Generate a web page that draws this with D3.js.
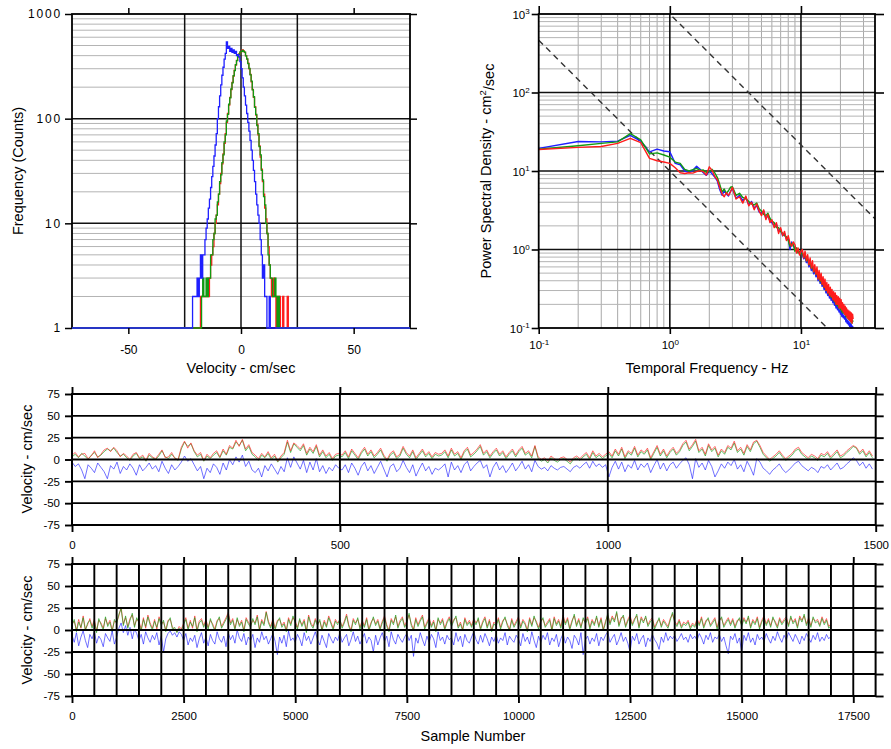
<!DOCTYPE html>
<html>
<head>
<meta charset="utf-8">
<script src="https://cdn.jsdelivr.net/npm/d3@7"></script>
<style>
  body { margin: 0; background: #fff; }
  text { font-family: "Liberation Sans", Arial, Helvetica, sans-serif; fill: #000; }
</style>
</head>
<body>
<svg id="chart" width="891" height="749"></svg>
<script>
// ---------------- data ----------------
// Velocity histogram, bin width 0.5 cm/s, counts per bin (count 1 = empty bin on log axis)
const binWidth = 0.5;
const histBlueStart = -22.5;
const histBlue = [1,1,2,2,2,2,3,2,3,5,3,5,5,7,9,11,14,17,22,28,35,44,56,72,100,130,165,210,260,310,370,420,540,470,490,440,470,430,455,420,440,400,410,390,350,300,245,200,165,135,112,92,76,62,50,40,32,25,19,15,12,10,7,5,3,4,2,2,1,1,2,1,1];
const histRedStart = -18.5;
const histRed = [1,2,2,2,2,2,2,3,2,3,4,5,6,8,10,12,15,19,24,30,37,46,58,72,92,112,135,160,190,222,255,290,325,360,390,415,430,440,455,445,430,400,370,340,300,265,225,190,160,130,108,88,70,55,43,33,25,19,14,11,8,6,4,3,2,2,3,2,1,2,1,2,1,1,2,1,1,1,2,1];
const histGreenStart = -17.5;
const histGreen = [2,3,2,2,3,2,3,3,5,5,7,8,11,12,16,19,25,29,38,45,60,70,95,110,138,158,192,220,258,288,328,358,392,412,435,438,450,440,432,398,372,336,302,262,228,188,162,128,110,86,72,54,45,32,26,18,15,10,8,5,4,3,3,2,2,3,2,1,2,1];
const histXTicks = [-50, 0, 50];
const histXGrid = [-25, 0, 25];
const histYTicks = [1, 10, 100, 1000];

// Power spectral density (cm^2/sec) against frequency (Hz)
const psdFreq = [0.1,0.2,0.3,0.4,0.5,0.6,0.7,0.8,0.9,1.0,1.1,1.2,1.3,1.4,1.5,1.6,1.7,1.8,1.9,2.0,2.1,2.2,2.3,2.4,2.5,2.6,2.7,2.8,2.9,3.0,
  3.2,3.4,3.6,3.8,4.0,4.2,4.4,4.6,4.8,5.0,5.2,5.4,5.6,5.8,6.0,
  6.25,6.5,6.75,7.0,7.25,7.5,7.75,8.0,8.25,8.5,8.75,9.0,9.25,9.5,9.75,10.0,
  10.25,10.5,10.75,11,11.25,11.5,11.75,12,12.25,12.5,12.75,13,13.25,13.5,13.75,14,14.25,14.5,14.75,15,
  15.25,15.5,15.75,16,16.25,16.5,16.75,17,17.25,17.5,17.75,18,18.25,18.5,18.75,19,19.25,19.5,19.75,20,
  20.25,20.5,20.75,21,21.25,21.5,21.75,22,22.25,22.5,22.75,23,23.25,23.5,23.75,24,24.25,24.5,24.75,25];
const psdBlue = [19.4,23.8,23.5,24,28.5,24,17.5,19,18,17.6,12.5,12,10,9.6,10.2,11.5,10.5,9.5,8.8,10,9.2,8.4,7.5,5.8,4.9,5.6,5.1,4.8,5.5,6.0,
  4.5,4.9,4.2,4.6,3.7,4.1,3.4,3.6,3.0,2.9,3.1,2.5,2.7,2.3,2.2,
  2.0,2.1,1.7,1.8,1.5,1.6,1.35,1.4,1.0,1.25,1.1,1.05,1.0,0.95,0.9,0.92,
  0.86,0.76,0.8,0.68,0.72,0.6,0.65,0.54,0.58,0.49,0.53,0.45,0.48,0.4,0.44,0.37,0.4,0.34,0.36,0.31,
  0.33,0.28,0.3,0.26,0.28,0.24,0.26,0.225,0.245,0.21,0.225,0.195,0.21,0.18,0.195,0.17,0.185,0.16,0.17,0.15,
  0.165,0.14,0.155,0.135,0.145,0.13,0.14,0.12,0.13,0.115,0.125,0.11,0.12,0.105,0.115,0.1,0.11,0.1,0.105,0.1];
const psdGreen = [19.0,21,22.5,23.5,30,25,16.5,17,16,15,13,12.5,10.5,10,10.4,10.8,10.2,10.3,9.6,9.8,10.5,9.5,8.3,6.8,5.4,5.9,5.2,5.6,6.2,6.3,
  4.9,5.2,4.6,4.4,4.1,3.8,3.7,3.9,3.3,3.1,2.8,2.7,2.9,2.5,2.3,
  2.2,1.9,1.9,1.7,1.6,1.5,1.45,1.3,1.1,1.2,1.15,0.95,1.05,0.9,0.95,0.88,
  0.9,0.8,0.84,0.72,0.76,0.64,0.68,0.58,0.62,0.52,0.56,0.48,0.51,0.43,0.46,0.39,0.42,0.36,0.38,0.33,
  0.35,0.3,0.32,0.28,0.3,0.26,0.28,0.245,0.265,0.23,0.245,0.215,0.23,0.2,0.215,0.19,0.205,0.18,0.19,0.17,
  0.185,0.16,0.175,0.155,0.165,0.15,0.16,0.14,0.155,0.135,0.145,0.13,0.14,0.125,0.135,0.12,0.13,0.115,0.125,0.12];
const psdRed = [18.8,20,20.5,22.5,26,23,14.5,13.5,13,12.5,11,9.5,9.3,9.5,9.4,9.8,10.1,9.8,8.9,11.3,10.2,8.5,7.8,6.2,5.1,4.7,5.3,4.9,5.4,6.2,
  4.4,4.7,3.9,4.8,3.6,4.0,3.2,3.8,3.1,2.7,3.2,2.4,2.8,2.2,2.4,
  1.9,2.2,1.6,1.9,1.5,1.7,1.3,1.5,1.2,1.1,1.25,1.15,0.9,1.05,0.85,0.95,
  1.0,0.78,0.95,0.72,0.86,0.64,0.78,0.58,0.72,0.52,0.64,0.48,0.6,0.42,0.54,0.4,0.5,0.36,0.45,0.33,
  0.42,0.3,0.38,0.28,0.36,0.26,0.33,0.25,0.31,0.23,0.29,0.22,0.28,0.2,0.26,0.2,0.25,0.18,0.24,0.18,
  0.23,0.17,0.21,0.16,0.2,0.15,0.19,0.145,0.18,0.135,0.17,0.13,0.165,0.125,0.16,0.12,0.155,0.115,0.15,0.13];
// -5/3 reference slopes
const refSlope = -5 / 3;
const refLevels = [10, 1000];
const psdDecades = [0.1, 1, 10, 100, 1000];

// First 1500 samples, one value every 6 samples (cm/sec)
const shortStep = 6;
const shortGreen = [3,6,2,7,4,0,5,8,3, 5,9,12,10,13,8,4,6, 2,-1,4,7,1,3,-2,5,2,0, 4,10,3,1,6,2,-1, 12,20,15,18,9, 3,6,-2,4,1,5, 8,2,10,5,14, 12,20,16,22,10,15,6, 3,-1,5,2,7,0,4,-3,2,6, 20,8,18,14,10,16,5, 12,7,15,3,9, 2,6,-1,4,5,
  3,8,1,10,5,0,7,12,4,9,2,6,11,3,-2,5,8,1,4,13,6,2,9,0,5,10,3,7,1,6,4,
  5,9,2,11,4,7,0,8,12,3,6,10,15,5,9,2,7,11,4,8,1,6,10,3,9,13,5,8,2,15,
  1,-2,0,-4,2,-1,-3,0,1,-2,-5,0,2,-1,
  3,6,0,8,2,5,1,4,
  7,2,10,4,12,1,8,5,13,3,9,6,11,0,7,14,4,10,2,8,12,5,9,16,
  20,10,15,21,8,12,4,16,9,13,3,10,6,14,11,19,8,12,5,15,9,18,21,
  14,6,2,-2,1,4,8,3,-1,2,5,10,12,6,3,0,4,2,-1,5,
  3,7,1,5,9,2,4,8,11,15,13,6,10,3,8,2];
const shortRed = [5,8,3,6,7,1,4,10,2, 6,11,13,9,14,10,3,7, 4,0,6,8,2,5,-1,7,3,1, 6,11,2,3,8,1,0, 14,21,13,19,10, 5,8,-1,6,2,7, 10,3,12,6,16, 13,22,15,23,12,17,8, 5,1,7,3,9,2,6,-2,4,8, 22,10,19,16,12,18,7, 14,9,17,5,11, 4,8,1,6,7,
  5,10,3,12,7,2,9,14,6,11,4,8,13,5,0,7,10,3,6,15,8,4,11,2,7,12,5,9,3,8,6,
  7,11,4,13,6,9,2,10,14,5,8,12,17,7,11,4,9,13,6,10,3,8,12,5,11,15,7,10,4,16,
  3,0,2,-2,4,1,-1,2,3,0,-3,2,4,1,
  5,8,2,10,4,7,3,6,
  9,4,12,6,14,3,10,7,15,5,11,8,13,2,9,16,6,12,4,10,14,7,11,18,
  22,12,17,23,10,14,6,18,11,15,5,12,8,16,13,21,10,14,7,17,11,20,22,
  16,8,4,0,3,6,10,5,1,4,7,12,14,8,5,2,6,4,1,7,
  5,9,3,7,11,4,6,10,13,16,14,8,12,5,10,4];
const shortBlue = [-3,-8,-5,-12,-22,-6,-10,-15,-4, -9,-14,-22,-7,-11,-3,-16,-8, -12,-5,-10,-18,-6,-13,-9,-4,-11,-7, -14,-2,-10,-16,-6,-12,-8, -3,4,-2,1,-6, -13,-8,-22,-10,-15,-5, -9,-17,-4,-12,0, -6,3,-3,5,-8,-2,-12, -15,-10,-20,-7,-13,-5,-11,-17,-8,-14, 2,-9,3,-4,-11,-1,-15, -3,-12,1,-14,-7, -16,-9,-13,-6,-10,
  -12,-6,-15,-4,-10,-18,-8,-3,-13,-7,-16,-9,-2,-11,-20,-8,-5,-14,-10,-1,-9,-15,-6,-19,-11,-4,-13,-8,-17,-10,-12,
  -9,-5,-20,-3,-12,-7,-15,-6,-2,-13,-8,-4,-1,-10,-6,-20,-9,-3,-12,-7,-15,-10,-4,-13,-8,-2,-11,-6,-14,-1,
  -8,-11,-9,-13,-7,-10,-12,-9,-8,-11,-14,-9,-7,-10,
  -6,-3,-10,-2,-8,-5,-9,-6,
  -20,-9,-2,-11,-3,-14,-6,-10,-1,-12,-5,-9,-4,-15,-7,0,-11,-4,-13,-6,-3,-10,-5,-1,
  2,-6,-22,1,-9,-4,-12,-1,-8,-20,-13,-5,-10,-3,-7,0,-11,-6,-14,-2,-9,-18,1,
  -3,-10,-13,-17,-12,-9,-5,-11,-15,-12,-8,-4,-2,-7,-10,-13,-9,-11,-15,-8,
  -10,-6,-12,-8,-4,-11,-9,-5,-2,2,-1,-7,-3,-10,-5,-11];

// Full record, one value every 50 samples (cm/sec)
const longStep = 50;
const longGreen = [5,12,-2,9,3,14,-1,8,11,2, 10,-3,13,6,0,15,4,9,-2,12, 7,18,24,5,16,2,11,19,3,14, 8,-1,12,4,15,6,0,10,3,13,
  5,11,-2,9,14,1,3,-3,2,-1, 6,12,0,9,4,14,-2,8,11,3, 10,1,13,5,-1,9,15,2,7,12, 18,6,11,0,14,4,9,-2,12,7,
  3,13,6,15,-1,10,5,20,8,2, 11,0,9,14,3,7,-2,12,5,16, 8,1,13,4,10,-3,15,6,2,11, 5,12,-1,9,3,14,7,0,10,6,
  13,2,8,16,4,-2,11,6,14,1, 9,3,12,-1,7,15,5,10,0,8, 14,4,-2,11,6,17,2,9,13,3, 8,19,5,-1,12,4,10,15,1,7,
  12,3,9,-2,14,6,11,0,8,13, 4,10,16,2,7,-1,12,5,9,3, 11,6,14,0,8,13,2,10,-2,7, 4,12,1,9,15,5,-1,11,3,8,
  13,2,10,6,-2,12,4,16,8,1, 9,14,3,7,11,-1,13,5,10,2, 15,6,12,0,9,18,4,11,2,14, 7,13,1,10,5,16,3,12,-1,8,
  19,6,14,9,21,4,12,17,3,10, 15,5,11,18,2,13,8,16,4,9, 12,1,7,14,3,10,6,2,11,20, 8,4,10,2,7,5,9,1,6,3,
  11,5,13,2,9,14,4,8,12,1, 10,15,3,8,12,5,11,2,9,14, 4,12,7,16,2,10,6,13,1,9, 14,5,11,3,15,8,2,12,6,10,
  13,4,16,7,11,2,14,9,18,5, 12,3,15,8,10,4,13,6,11,2, 5];
const longRed = [7,10,0,12,2,16,1,6,13,4, 12,-1,11,8,2,13,6,11,0,10, 9,16,26,7,14,4,13,17,5,12, 10,1,14,2,17,8,2,12,1,15,
  7,9,0,11,12,3,1,-2,4,1, 8,14,2,11,2,16,0,10,13,5, 12,3,11,7,1,11,13,4,9,14, 20,8,13,2,12,6,11,0,14,9,
  5,11,8,17,1,12,7,21,10,4, 13,2,11,12,5,9,0,14,7,14, 10,3,11,6,12,-1,17,8,4,13, 7,10,1,11,5,16,9,2,12,8,
  11,4,10,18,6,0,13,8,12,3, 11,5,14,1,9,13,7,12,2,10, 16,6,0,13,8,15,4,11,15,5, 10,17,7,1,14,6,12,17,3,9,
  14,5,11,0,12,8,13,2,10,15, 6,12,14,4,9,1,14,7,11,5, 13,8,12,2,10,15,4,12,0,9, 6,14,3,11,13,7,1,13,5,10,
  15,4,12,8,0,14,6,14,10,3, 11,12,5,9,13,1,15,7,12,4, 17,8,14,2,11,16,6,13,4,12, 9,15,3,12,7,14,5,14,1,10,
  17,8,16,11,19,6,14,15,5,12, 17,7,13,16,4,15,10,14,6,11, 14,3,9,12,5,12,8,4,13,18, 10,6,12,4,9,7,11,3,8,5,
  13,7,15,4,11,12,6,10,14,3, 12,13,5,10,14,7,13,4,11,12, 6,14,9,14,4,12,8,15,3,11, 16,7,13,5,13,10,4,14,8,12,
  15,6,14,9,13,4,16,11,16,7, 14,5,13,10,12,6,15,8,13,4, 7];
const longBlue = [-6,-14,-3,-18,-8,-1,-12,-20,-5,-10, -2,-15,-7,-11,-19,-4,-9,-13,-1,-16, -8,2,8,-3,5,-6,3,-10,1,-4, -12,-5,-16,-2,-9,-14,-6,-11,-3,-17,
  -7,-25,-10,-4,-1,-6,-3,-8,-2,-5, -12,-4,-17,-9,-13,-6,-20,-10,-3,-15, -8,-18,-5,-12,-16,-2,-10,-14,-7,-19, -3,-11,-6,-15,0,-9,-13,-4,-17,-8,
  -12,-5,-20,-9,-14,-2,-11,-7,-16,-10, -4,-13,-28,-8,-15,-6,-19,-1,-12,-9, -14,-5,-10,-18,-3,-12,-7,-16,-9,-2, -11,-17,-6,-13,-20,-4,-10,-15,-8,-12,
  -3,-14,-9,-5,-18,-11,-2,-13,-7,-16, -10,-4,-15,-8,-12,-25,-6,-17,-9,-3, -13,-7,-19,-2,-11,-16,-5,-10,-14,-8, -4,-12,-6,-30,-9,-15,-3,-11,-18,-7,
  -14,-5,-10,-20,-2,-12,-8,-16,-6,-11, -9,-17,-3,-13,-7,-19,-5,-12,-15,-8, -2,-11,-16,-6,-14,-4,-10,-18,-8,-13, -5,-15,-9,-12,-3,-17,-7,-11,-14,-6,
  -10,-18,-4,-13,-8,-16,-2,-12,-20,-7, -14,-6,-11,-3,-17,-9,-13,-5,-19,-10, -4,-15,-8,-12,-21,-6,-10,-17,-3,-28, -11,-7,-16,-9,-13,-4,-18,-8,-12,-6,
  -2,-14,-9,-5,-17,-11,-3,-13,-8,-15, -25,-7,-12,-4,-16,-10,-6,-19,-9,-13, -5,-11,-15,-22,-8,-14,-3,-12,-7,-10, -6,-13,-9,-4,-11,-8,-14,-5,-10,-7,
  -12,-4,-9,-16,-6,-11,-3,-14,-8,-10, -5,-13,-8,-18,-27,-7,-11,-4,-15,-9, -25,-6,-12,-3,-14,-9,-17,-5,-11,-8, -13,-4,-10,-15,-7,-12,-2,-9,-14,-6,
  -11,-3,-8,-13,-5,-10,-16,-7,-12,-4, -9,-14,-6,-11,-3,-13,-8,-12,-5,-10, -7];

const velTicks = [-75, -50, -25, 0, 25, 50, 75];
const shortXTicks = [0, 500, 1000, 1500];
const longXTicks = [0, 2500, 5000, 7500, 10000, 12500, 15000, 17500];

const colors = { blue: "#1f1fff", green: "#119a11", red: "#ff1c1c" };

// ---------------- drawing ----------------
const svg = d3.select("#chart");
const plain = d => String(d);   // labels with an ASCII hyphen for negatives

function tidyAxis(g, width, fontSize) {
  g.select(".domain").remove();
  g.attr("font-family", null).attr("font-size", null);
  g.selectAll(".tick line").attr("stroke", "#000").attr("stroke-width", width);
  g.selectAll(".tick text").style("font-size", fontSize + "px");
}

function hLines(g, ys, x1, x2, color, width) {
  g.append("g").selectAll("line").data(ys).join("line")
    .attr("x1", x1).attr("x2", x2).attr("y1", d => d).attr("y2", d => d)
    .attr("stroke", color).attr("stroke-width", width);
}
function vLines(g, xs, y1, y2, color, width) {
  g.append("g").selectAll("line").data(xs).join("line")
    .attr("y1", y1).attr("y2", y2).attr("x1", d => d).attr("x2", d => d)
    .attr("stroke", color).attr("stroke-width", width);
}
function frame(g, x0, y0, x1, y1, width) {
  g.append("rect").attr("x", x0).attr("y", y0).attr("width", x1 - x0).attr("height", y1 - y0)
    .attr("fill", "none").attr("stroke", "#000").attr("stroke-width", width);
}
function logMinors(decades) {
  const out = [];
  decades.forEach(d => { for (let k = 2; k <= 9; k++) out.push(k * d); });
  return out;
}

// ===== Panel 1: velocity histogram =====
{
  const L = 72, R = 410, T = 14, B = 328;
  const x = d3.scaleLinear([-75, 75], [L, R]);
  const y = d3.scaleLog([1, 1000], [B, T]);
  const g = svg.append("g");

  hLines(g, logMinors([1, 10, 100]).map(y), L, R, "#b4b4b4", 1);
  hLines(g, [10, 100].map(y), L, R, "#111", 1.5);
  vLines(g, histXGrid.map(x), T, B, "#111", 1.5);
  frame(g, L, T, R, B, 1.8);

  const line = d3.line().x(d => x(d[0])).y(d => y(Math.max(1, d[1]))).curve(d3.curveStepAfter);
  function histPoints(start, counts) {
    const pts = [[-75, 1]];
    counts.forEach((c, i) => pts.push([start + i * binWidth, c]));
    pts.push([start + counts.length * binWidth, 1]);
    pts.push([75, 1]);
    return pts;
  }
  [[histRedStart, histRed, colors.red], [histGreenStart, histGreen, colors.green], [histBlueStart, histBlue, colors.blue]]
    .forEach(([s, c, col]) => {
      g.append("path").attr("d", line(histPoints(s, c))).attr("fill", "none")
        .attr("stroke", col).attr("stroke-width", 1.3);
    });

  g.append("g").attr("transform", `translate(${L},0)`)
    .call(d3.axisLeft(y).tickValues(histYTicks).tickFormat(d3.format("d")).tickSize(7).tickPadding(3))
    .call(a => tidyAxis(a, 1.5, 12))
    .call(a => a.selectAll(".tick text").style("letter-spacing", "1.8px"));
  g.append("g").attr("transform", `translate(${R},0)`)
    .call(d3.axisRight(y).tickValues(histYTicks).tickFormat("").tickSize(7))
    .call(a => tidyAxis(a, 1.5, 12));
  g.append("g").attr("transform", `translate(0,${B})`)
    .call(d3.axisBottom(x).tickValues(histXTicks).tickFormat(plain).tickSize(6).tickPadding(11))
    .call(a => tidyAxis(a, 1.5, 12));
  g.append("g").attr("transform", `translate(0,${T})`)
    .call(d3.axisTop(x).tickValues(histXTicks).tickFormat("").tickSize(6))
    .call(a => tidyAxis(a, 1.5, 12));

  g.append("text").attr("x", (L + R) / 2).attr("y", 373).attr("text-anchor", "middle")
    .style("font-size", "14.5px").text("Velocity - cm/sec");
  g.append("text").attr("transform", `translate(23,${(T + B) / 2}) rotate(-90)`)
    .attr("text-anchor", "middle").style("font-size", "14.5px").text("Frequency (Counts)");
}

// ===== Panel 2: power spectral density =====
{
  const L = 538.7, R = 875, T = 14, B = 328;
  const x = d3.scaleLog([0.1, 36.7], [L, R]);
  const y = d3.scaleLog([0.1, 1000], [B, T]);
  const g = svg.append("g");

  const xMinor = logMinors([0.1, 1]).concat([20, 30]);
  vLines(g, xMinor.map(x), T, B, "#a8a8a8", 1);
  hLines(g, logMinors([0.1, 1, 10, 100]).map(y), L, R, "#b4b4b4", 1);
  vLines(g, [1, 10].map(x), T, B, "#111", 1.6);
  hLines(g, [1, 10, 100].map(y), L, R, "#111", 1.6);

  // -5/3 reference lines
  g.append("clipPath").attr("id", "psdClip").append("rect")
    .attr("x", L).attr("y", T).attr("width", R - L).attr("height", B - T);
  const fd = x.domain();
  g.append("g").attr("clip-path", "url(#psdClip)").selectAll("line").data(refLevels).join("line")
    .attr("x1", x(fd[0])).attr("x2", x(fd[1]))
    .attr("y1", a => y(a * Math.pow(fd[0], refSlope)))
    .attr("y2", a => y(a * Math.pow(fd[1], refSlope)))
    .attr("stroke", "#333").attr("stroke-width", 1.4).attr("stroke-dasharray", "6,4.5");

  const line = d3.line().x((d, i) => x(psdFreq[i])).y(d => y(d));
  [[psdBlue, colors.blue], [psdGreen, colors.green], [psdRed, colors.red]].forEach(([v, col]) => {
    g.append("path").attr("d", line(v)).attr("fill", "none").attr("stroke", col)
      .attr("stroke-width", 1.4).attr("stroke-linejoin", "round");
  });

  frame(g, L, T, R, B, 1.8);

  function powerLabels(a, side) {
    a.selectAll(".tick").each(function (d) {
      const e = Math.round(Math.log10(d));
      const t = d3.select(this).append("text").style("font-size", "11.5px");
      if (side === "left") t.attr("x", -9).attr("dy", "0.38em").attr("text-anchor", "end");
      else t.attr("y", 21).attr("text-anchor", "middle");
      t.append("tspan").text("10");
      t.append("tspan").attr("dy", "-0.55em").style("font-size", "8px").text(e);
    });
  }
  g.append("g").attr("transform", `translate(${L},0)`)
    .call(d3.axisLeft(y).tickValues(psdDecades).tickFormat("").tickSize(7))
    .call(a => tidyAxis(a, 1.6, 12)).call(a => powerLabels(a, "left"));
  g.append("g").attr("transform", `translate(${R},0)`)
    .call(d3.axisRight(y).tickValues(psdDecades).tickFormat("").tickSize(9))
    .call(a => tidyAxis(a, 1.6, 12));
  g.append("g").attr("transform", `translate(0,${B})`)
    .call(d3.axisBottom(x).tickValues([0.1, 1, 10]).tickFormat("").tickSize(6))
    .call(a => tidyAxis(a, 1.6, 12)).call(a => powerLabels(a, "bottom"));
  g.append("g").attr("transform", `translate(0,${T})`)
    .call(d3.axisTop(x).tickValues([0.1, 1, 10]).tickFormat("").tickSize(8))
    .call(a => tidyAxis(a, 1.6, 12));

  g.append("text").attr("x", 707).attr("y", 373).attr("text-anchor", "middle")
    .style("font-size", "14.5px").text("Temporal Frequency - Hz");
  const yt = g.append("text").attr("transform", `translate(491,${(T + B) / 2}) rotate(-90)`)
    .attr("text-anchor", "middle").style("font-size", "14.5px");
  yt.append("tspan").text("Power Spectral Density - cm");
  yt.append("tspan").attr("dy", "-0.5em").style("font-size", "9.5px").text("2");
  yt.append("tspan").attr("dy", "0.5em").text("/sec");
}

// ===== Time-series panels =====
function seriesPanel(opts) {
  const { L, R, T, B, xDomain, xTicks, xGrid, step, series, titleY } = opts;
  const x = d3.scaleLinear(xDomain, [L, R]);
  const y = d3.scaleLinear([-75, 75], [B, T]);
  const g = svg.append("g");

  const line = d3.line().x((d, i) => x(i * step)).y(d => y(d));
  series.forEach(([v, col]) => {
    g.append("path").attr("d", line(v)).attr("fill", "none").attr("stroke", col)
      .attr("stroke-width", 0.8).attr("stroke-opacity", 0.8).attr("stroke-linejoin", "round");
  });

  hLines(g, [-50, -25, 0, 25, 50].map(y), L, R, "#000", 1.9);
  vLines(g, xGrid.map(x), T, B, "#000", 1.9);
  frame(g, L, T, R, B, 2);

  g.append("g").attr("transform", `translate(${L},0)`)
    .call(d3.axisLeft(y).tickValues(velTicks).tickFormat(plain).tickSize(7).tickPadding(5))
    .call(a => tidyAxis(a, 1.9, 11.5));
  g.append("g").attr("transform", `translate(${R},0)`)
    .call(d3.axisRight(y).tickValues(velTicks).tickFormat("").tickSize(8))
    .call(a => tidyAxis(a, 1.9, 11.5));
  g.append("g").attr("transform", `translate(0,${B})`)
    .call(d3.axisBottom(x).tickValues(xTicks).tickFormat(plain).tickSize(7).tickPadding(9))
    .call(a => tidyAxis(a, 1.9, 11.5));
  g.append("g").attr("transform", `translate(0,${T})`)
    .call(d3.axisTop(x).tickValues(xTicks).tickFormat("").tickSize(7))
    .call(a => tidyAxis(a, 1.9, 11.5));

  g.append("text").attr("transform", `translate(32,${titleY}) rotate(-90)`)
    .attr("text-anchor", "middle").style("font-size", "14.5px").text("Velocity - cm/sec");
  return g;
}

seriesPanel({
  L: 72, R: 875.7, T: 394, B: 525, xDomain: [0, 1500], xTicks: shortXTicks, xGrid: [500, 1000],
  step: shortStep, titleY: 459,
  series: [[shortBlue, colors.blue], [shortGreen, colors.green], [shortRed, colors.red]]
});

const longGrid = d3.range(500, 18000, 500);
const lg = seriesPanel({
  L: 72, R: 875.6, T: 564, B: 696, xDomain: [0, 18000], xTicks: longXTicks, xGrid: longGrid,
  step: longStep, titleY: 630,
  series: [[longRed, colors.red], [longGreen, colors.green], [longBlue, colors.blue]]
});
lg.append("text").attr("x", 473).attr("y", 741).attr("text-anchor", "middle")
  .style("font-size", "14.5px").text("Sample Number");
</script>
</body>
</html>
